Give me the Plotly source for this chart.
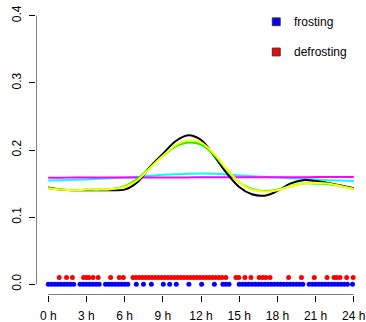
import plotly.graph_objects as go

hours = [0, 1, 2, 3, 4, 5, 6, 7, 8, 9, 10, 11, 12, 13, 14, 15, 16, 17, 18, 19, 20, 21, 22, 23, 24]

black_vals = [0.144, 0.141, 0.140, 0.140, 0.140, 0.140, 0.141, 0.152, 0.175, 0.194, 0.213, 0.222, 0.215,
              0.192, 0.166, 0.145, 0.134, 0.132, 0.139, 0.150, 0.155, 0.154, 0.151, 0.147, 0.143]
green_vals = [0.143, 0.141, 0.140, 0.141, 0.141, 0.142, 0.146, 0.157, 0.174, 0.191, 0.205, 0.211, 0.208,
              0.193, 0.171, 0.152, 0.142, 0.139, 0.141, 0.146, 0.150, 0.150, 0.149, 0.146, 0.142]
yellow_vals = [0.143, 0.141, 0.140, 0.141, 0.141, 0.142, 0.145, 0.155, 0.173, 0.191, 0.207, 0.214, 0.211,
               0.195, 0.172, 0.152, 0.141, 0.138, 0.140, 0.146, 0.150, 0.151, 0.150, 0.146, 0.142]
cyan_vals = [0.1545, 0.155, 0.1555, 0.156, 0.157, 0.158, 0.159, 0.160, 0.1615, 0.163, 0.164, 0.1645, 0.165,
             0.1645, 0.1635, 0.162, 0.161, 0.160, 0.159, 0.158, 0.157, 0.156, 0.155, 0.1545, 0.154]
magenta_vals = [0.1588, 0.1588, 0.1589, 0.1589, 0.1590, 0.1590, 0.1590, 0.1591, 0.1591, 0.1592, 0.1592, 0.1592,
                0.1593, 0.1593, 0.1593, 0.1594, 0.1594, 0.1594, 0.1595, 0.1595, 0.1595, 0.1596, 0.1596, 0.1596, 0.1597]

frost_hours = [0.0, 0.25, 0.5, 0.75, 1.0, 1.25, 1.5, 1.75, 2.0,
               2.5, 2.75, 3.0, 3.25, 3.5, 3.75, 4.0,
               4.5, 4.75, 5.0, 5.25, 5.5, 5.75, 6.0, 6.25,
               6.92, 7.48, 8.1, 9.04, 9.54, 10.06, 11.05, 12.05, 13.05, 13.72, 13.95, 14.2,
               15.0, 15.25, 15.5, 15.75, 16.0, 16.25, 16.5, 16.75, 17.0, 17.25, 17.5, 17.75,
               18.0, 18.25, 18.5, 18.75, 19.0, 19.25, 19.5, 19.75, 20.0,
               20.5, 20.75, 21.0, 21.25, 21.5, 21.75, 22.0, 22.25, 22.5, 22.75, 23.0, 23.25, 23.5,
               23.9]
frost_level = 0.0

defrost_hours = [0.86, 1.44, 1.9, 2.78, 3.0, 3.2, 3.52, 3.92, 4.9, 5.58, 5.9,
                 6.66, 6.9, 7.15, 7.4, 7.65, 7.9, 8.15, 8.4, 8.65, 8.9, 9.15, 9.4, 9.65, 9.9,
                 10.15, 10.4, 10.65, 10.9, 11.15, 11.4, 11.65, 11.9, 12.15, 12.4, 12.65, 12.9,
                 13.15, 13.4, 13.65, 13.95,
                 14.74, 14.97, 15.45, 15.92, 16.57, 16.85, 17.1, 17.42, 18.88, 19.89, 20.9, 21.9,
                 22.45, 22.65, 22.92, 23.44, 23.95]
defrost_level = 0.01

tick_vals = [0, 3, 6, 9, 12, 15, 18, 21, 24]
tick_text = ["0 h", "3 h", "6 h", "9 h", "12 h", "15 h", "18 h", "21 h", "24 h"]
y_ticks = [0.0, 0.1, 0.2, 0.3, 0.4]
y_text = ["0.0", "0.1", "0.2", "0.3", "0.4"]

legend_labels = ["frosting", "defrosting"]
legend_colors = ["#0000FF", "#FF0000"]

fig = go.Figure()

line_specs = [(cyan_vals, "#00FFFF"), (magenta_vals, "#FF00FF"), (black_vals, "#000000"),
              (green_vals, "#00FF00"), (yellow_vals, "#FFFF00")]
for vals, col in line_specs:
    fig.add_trace(go.Scatter(x=hours, y=vals, mode="lines", line=dict(color=col, width=2, shape="spline"),
                             showlegend=False, hoverinfo="skip"))

fig.add_trace(go.Scatter(x=frost_hours, y=[frost_level] * len(frost_hours), mode="markers",
                         marker=dict(color="#0000FF", size=5, line=dict(width=0)), showlegend=False))
fig.add_trace(go.Scatter(x=defrost_hours, y=[defrost_level] * len(defrost_hours), mode="markers",
                         marker=dict(color="#FF0000", size=5, line=dict(width=0)), showlegend=False))

font = dict(family="Liberation Sans, Arial, Helvetica, sans-serif", size=12, color="#000000")

shapes = [
    dict(type="line", xref="x", yref="y", x0=0, x1=24, y0=-0.016, y1=-0.016, line=dict(color="#000", width=1)),
    dict(type="line", xref="x", yref="y", x0=-0.96, x1=-0.96, y0=0, y1=0.4, line=dict(color="#000", width=1)),
]
annotations = []
leg_y = [0.391, 0.346]
for lab, col, yy in zip(legend_labels, legend_colors, leg_y):
    shapes.append(dict(type="rect", xref="x", yref="y", x0=17.6, x1=18.22, y0=yy - 0.0058, y1=yy + 0.0058,
                       fillcolor=col, line=dict(color="#333333", width=1)))
    annotations.append(dict(x=19.15, y=yy, xref="x", yref="y", text=lab, showarrow=False,
                            xanchor="left", yanchor="middle", font=font))

fig.update_layout(
    width=366, height=322,
    margin=dict(l=36, r=0, t=5, b=27),
    paper_bgcolor="white", plot_bgcolor="white",
    font=font,
    shapes=shapes, annotations=annotations,
    showlegend=False,
)
fig.update_xaxes(range=[-0.96, 24.96], tickvals=tick_vals, ticktext=tick_text, ticks="outside",
                 ticklen=6, tickcolor="#000", showgrid=False, zeroline=False, showline=False,
                 ticklabelstandoff=4, tickfont=font, fixedrange=True, automargin=False)
fig.update_yaxes(range=[-0.016, 0.416], tickvals=y_ticks, ticktext=y_text, ticks="outside",
                 ticklen=6, tickcolor="#000", showgrid=False, zeroline=False, showline=False,
                 tickangle=-90, ticklabelstandoff=3, tickfont=font, fixedrange=True, automargin=False)

fig.write_html("out.html", config={"displayModeBar": False},
               post_script="document.body.style.margin='0';document.body.style.overflow='hidden';")
